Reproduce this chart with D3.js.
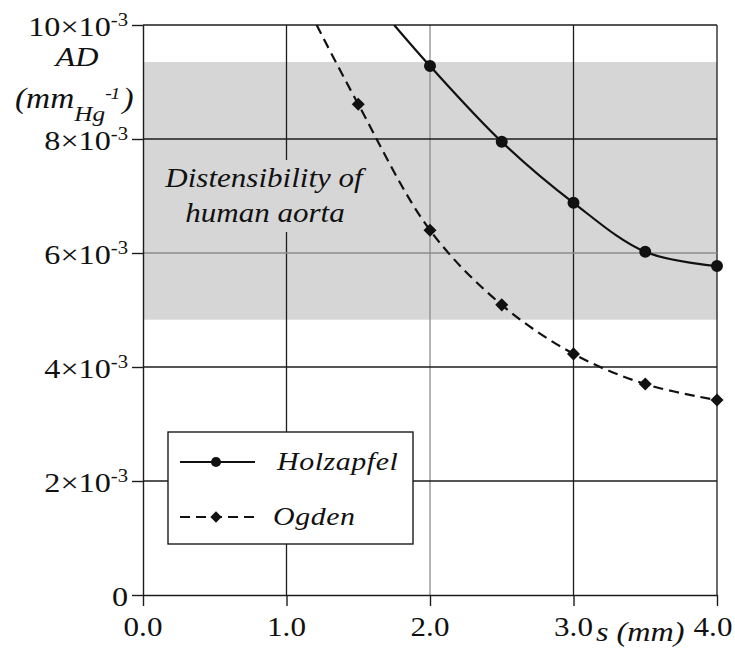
<!DOCTYPE html>
<html>
<head>
<meta charset="utf-8">
<script src="https://cdn.jsdelivr.net/npm/d3@7"></script>
<style>
  body { margin: 0; background: #fff; }
</style>
</head>
<body>
<svg id="chart"></svg>
<script>
const sTicks = [0, 1, 2, 3, 4];
const sTickLabels = ["0.0", "1.0", "2.0", "3.0", "4.0"];
const adTicks = [0, 2, 4, 6, 8, 10];
const adTickLabels = ["0", "2×10", "4×10", "6×10", "8×10", "10×10"];

// s (mm) and AD (x10^-3 mmHg^-1)
const sPoints = [1.5, 2.0, 2.5, 3.0, 3.5, 4.0];
const holzapfel = [null, 9.28, 7.95, 6.88, 6.02, 5.77];
const ogden = [8.61, 6.40, 5.09, 4.23, 3.70, 3.42];
// where each curve enters through the top of the frame
const holzapfelEntry = [1.75, 10.0];
const ogdenEntry = [1.21, 10.0];
// distensibility range of human aorta
const aortaBand = [4.83, 9.35];

const W = 735, H = 648;
const sx = 1.15; // glyphs in the figure are a bit wide
const serif = '"Liberation Serif", "Times New Roman", serif';
const dark = "#1c1c1c", grey = "#8c8c8c", bandFill = "#d6d6d6";

const svg = d3.select("#chart").attr("width", W).attr("height", H)
    .style("font-family", serif);

const x = d3.scaleLinear().domain([0, 4]).range([143, 717]);
const y = d3.scaleLinear().domain([0, 10]).range([595, 25]);

// every label goes through here so font and width are the same everywhere
const place = (sel, px, py) => sel
    .attr("transform", `translate(${px},${py}) scale(${sx},1)`)
    .style("font-family", serif)
    .attr("fill", "#111");

// band
svg.append("rect")
    .attr("x", x(0)).attr("width", x(4) - x(0))
    .attr("y", y(aortaBand[1])).attr("height", y(aortaBand[0]) - y(aortaBand[1]))
    .attr("fill", bandFill);

// grid
const grid = svg.append("g");
grid.selectAll("line.v")
    .data(sTicks.slice(1))
    .join("line")
    .attr("x1", d => x(d)).attr("x2", d => x(d))
    .attr("y1", y(0)).attr("y2", y(10))
    .attr("stroke", d => d === 2 ? grey : dark)
    .attr("stroke-width", 1.3);
grid.selectAll("line.h")
    .data(adTicks.slice(1))
    .join("line")
    .attr("x1", x(0)).attr("x2", x(4))
    .attr("y1", d => y(d)).attr("y2", d => y(d))
    .attr("stroke", d => d === 6 ? grey : dark)
    .attr("stroke-width", 1.3);

// axes
const xAxis = d3.axisBottom(x).tickValues(sTicks).tickSize(11).tickSizeOuter(0).tickFormat("");
const yAxis = d3.axisLeft(y).tickValues(adTicks).tickSize(11).tickSizeOuter(0).tickFormat("");
svg.append("g").attr("transform", `translate(0,${y(0)})`).call(xAxis);
svg.append("g").attr("transform", `translate(${x(0)},0)`).call(yAxis);
svg.selectAll(".domain, .tick line").attr("stroke", dark).attr("stroke-width", 1.4);

// tick labels
sTicks.forEach((v, i) => {
    svg.append("text")
        .call(place, x(v) - (i === sTicks.length - 1 ? 4 : 0), y(0) + 41)
        .attr("text-anchor", "middle")
        .attr("font-size", 27)
        .text(sTickLabels[i]);
});
adTicks.forEach((v, i) => {
    const t = svg.append("text")
        .call(place, 128, y(v) + 11)
        .attr("text-anchor", "end")
        .attr("font-size", 28);
    t.append("tspan").text(adTickLabels[i]);
    if (v !== 0) t.append("tspan").attr("font-size", 18).attr("dy", -10).text("-3");
});

// axis titles
svg.append("text")
    .call(place, 77, 66)
    .attr("text-anchor", "middle")
    .attr("font-size", 28).attr("font-style", "italic")
    .text("AD");
const unit = svg.append("text")
    .call(place, 15, 108)
    .attr("font-size", 29).attr("font-style", "italic");
unit.append("tspan").text("(mm");
unit.append("tspan").attr("font-size", 22).attr("dy", 13).text("Hg");
unit.append("tspan").attr("font-size", 17).attr("dy", -22).attr("letter-spacing", -1).text("-1");
unit.append("tspan").attr("dy", 9).attr("dx", 3).text(")");

svg.append("text")
    .call(place, 596, 641)
    .attr("font-size", 28).attr("font-style", "italic")
    .text("s (mm)");

// annotation
svg.append("rect")
    .attr("x", 165).attr("y", 160).attr("width", 198).attr("height", 72)
    .attr("fill", bandFill);
svg.append("text")
    .call(place, 264, 187)
    .attr("text-anchor", "middle")
    .attr("font-size", 27).attr("font-style", "italic")
    .text("Distensibility of");
svg.append("text")
    .call(place, 265, 222)
    .attr("text-anchor", "middle")
    .attr("font-size", 27).attr("font-style", "italic")
    .text("human aorta");

// curves
svg.append("clipPath").attr("id", "plot")
    .append("rect").attr("x", x(0)).attr("y", y(10)).attr("width", x(4) - x(0)).attr("height", y(0) - y(10));

const line = d3.line()
    .x(d => x(d[0])).y(d => y(d[1]))
    .curve(d3.curveCatmullRom.alpha(0.5));

const holzData = [holzapfelEntry].concat(sPoints.map((s, i) => [s, holzapfel[i]]).filter(d => d[1] != null));
const ogdenData = [ogdenEntry].concat(sPoints.map((s, i) => [s, ogden[i]]));

const curves = svg.append("g").attr("clip-path", "url(#plot)");
curves.append("path")
    .attr("d", line(holzData))
    .attr("fill", "none").attr("stroke", "#111").attr("stroke-width", 2.2);
curves.append("path")
    .attr("d", line(ogdenData))
    .attr("fill", "none").attr("stroke", "#111").attr("stroke-width", 2.2)
    .attr("stroke-dasharray", "10,6");

const circle = d3.symbol().type(d3.symbolCircle);
const diamond = d3.symbol().type(d3.symbolSquare);

svg.append("g").selectAll("path")
    .data(holzData.slice(1))
    .join("path")
    .attr("transform", d => `translate(${x(d[0])},${y(d[1])})`)
    .attr("d", circle.size(113))
    .attr("fill", "#111");
svg.append("g").selectAll("path")
    .data(ogdenData.slice(1))
    .join("path")
    .attr("transform", d => `translate(${x(d[0])},${y(d[1])}) rotate(45)`)
    .attr("d", diamond.size(85))
    .attr("fill", "#111");

// legend
const lg = svg.append("g");
lg.append("rect")
    .attr("x", 168).attr("y", 432).attr("width", 245).attr("height", 112)
    .attr("fill", "#fff").attr("stroke", dark).attr("stroke-width", 1.4);
const rows = [
    { name: "Holzapfel", y: 462, dash: null, sym: circle.size(80), rot: 0, tx: 277, ty: 470 },
    { name: "Ogden", y: 517, dash: "10,6", sym: diamond.size(64), rot: 45, tx: 273, ty: 525 }
];
rows.forEach(r => {
    lg.append("line")
        .attr("x1", 180).attr("x2", 255).attr("y1", r.y).attr("y2", r.y)
        .attr("stroke", "#111").attr("stroke-width", 2.2)
        .attr("stroke-dasharray", r.dash);
    lg.append("path")
        .attr("transform", `translate(216,${r.y}) rotate(${r.rot})`)
        .attr("d", r.sym)
        .attr("fill", "#111");
    lg.append("text")
        .call(place, r.tx, r.ty)
        .attr("font-size", 26).attr("font-style", "italic")
        .attr("letter-spacing", 0.5)
        .text(r.name);
});
</script>
</body>
</html>
